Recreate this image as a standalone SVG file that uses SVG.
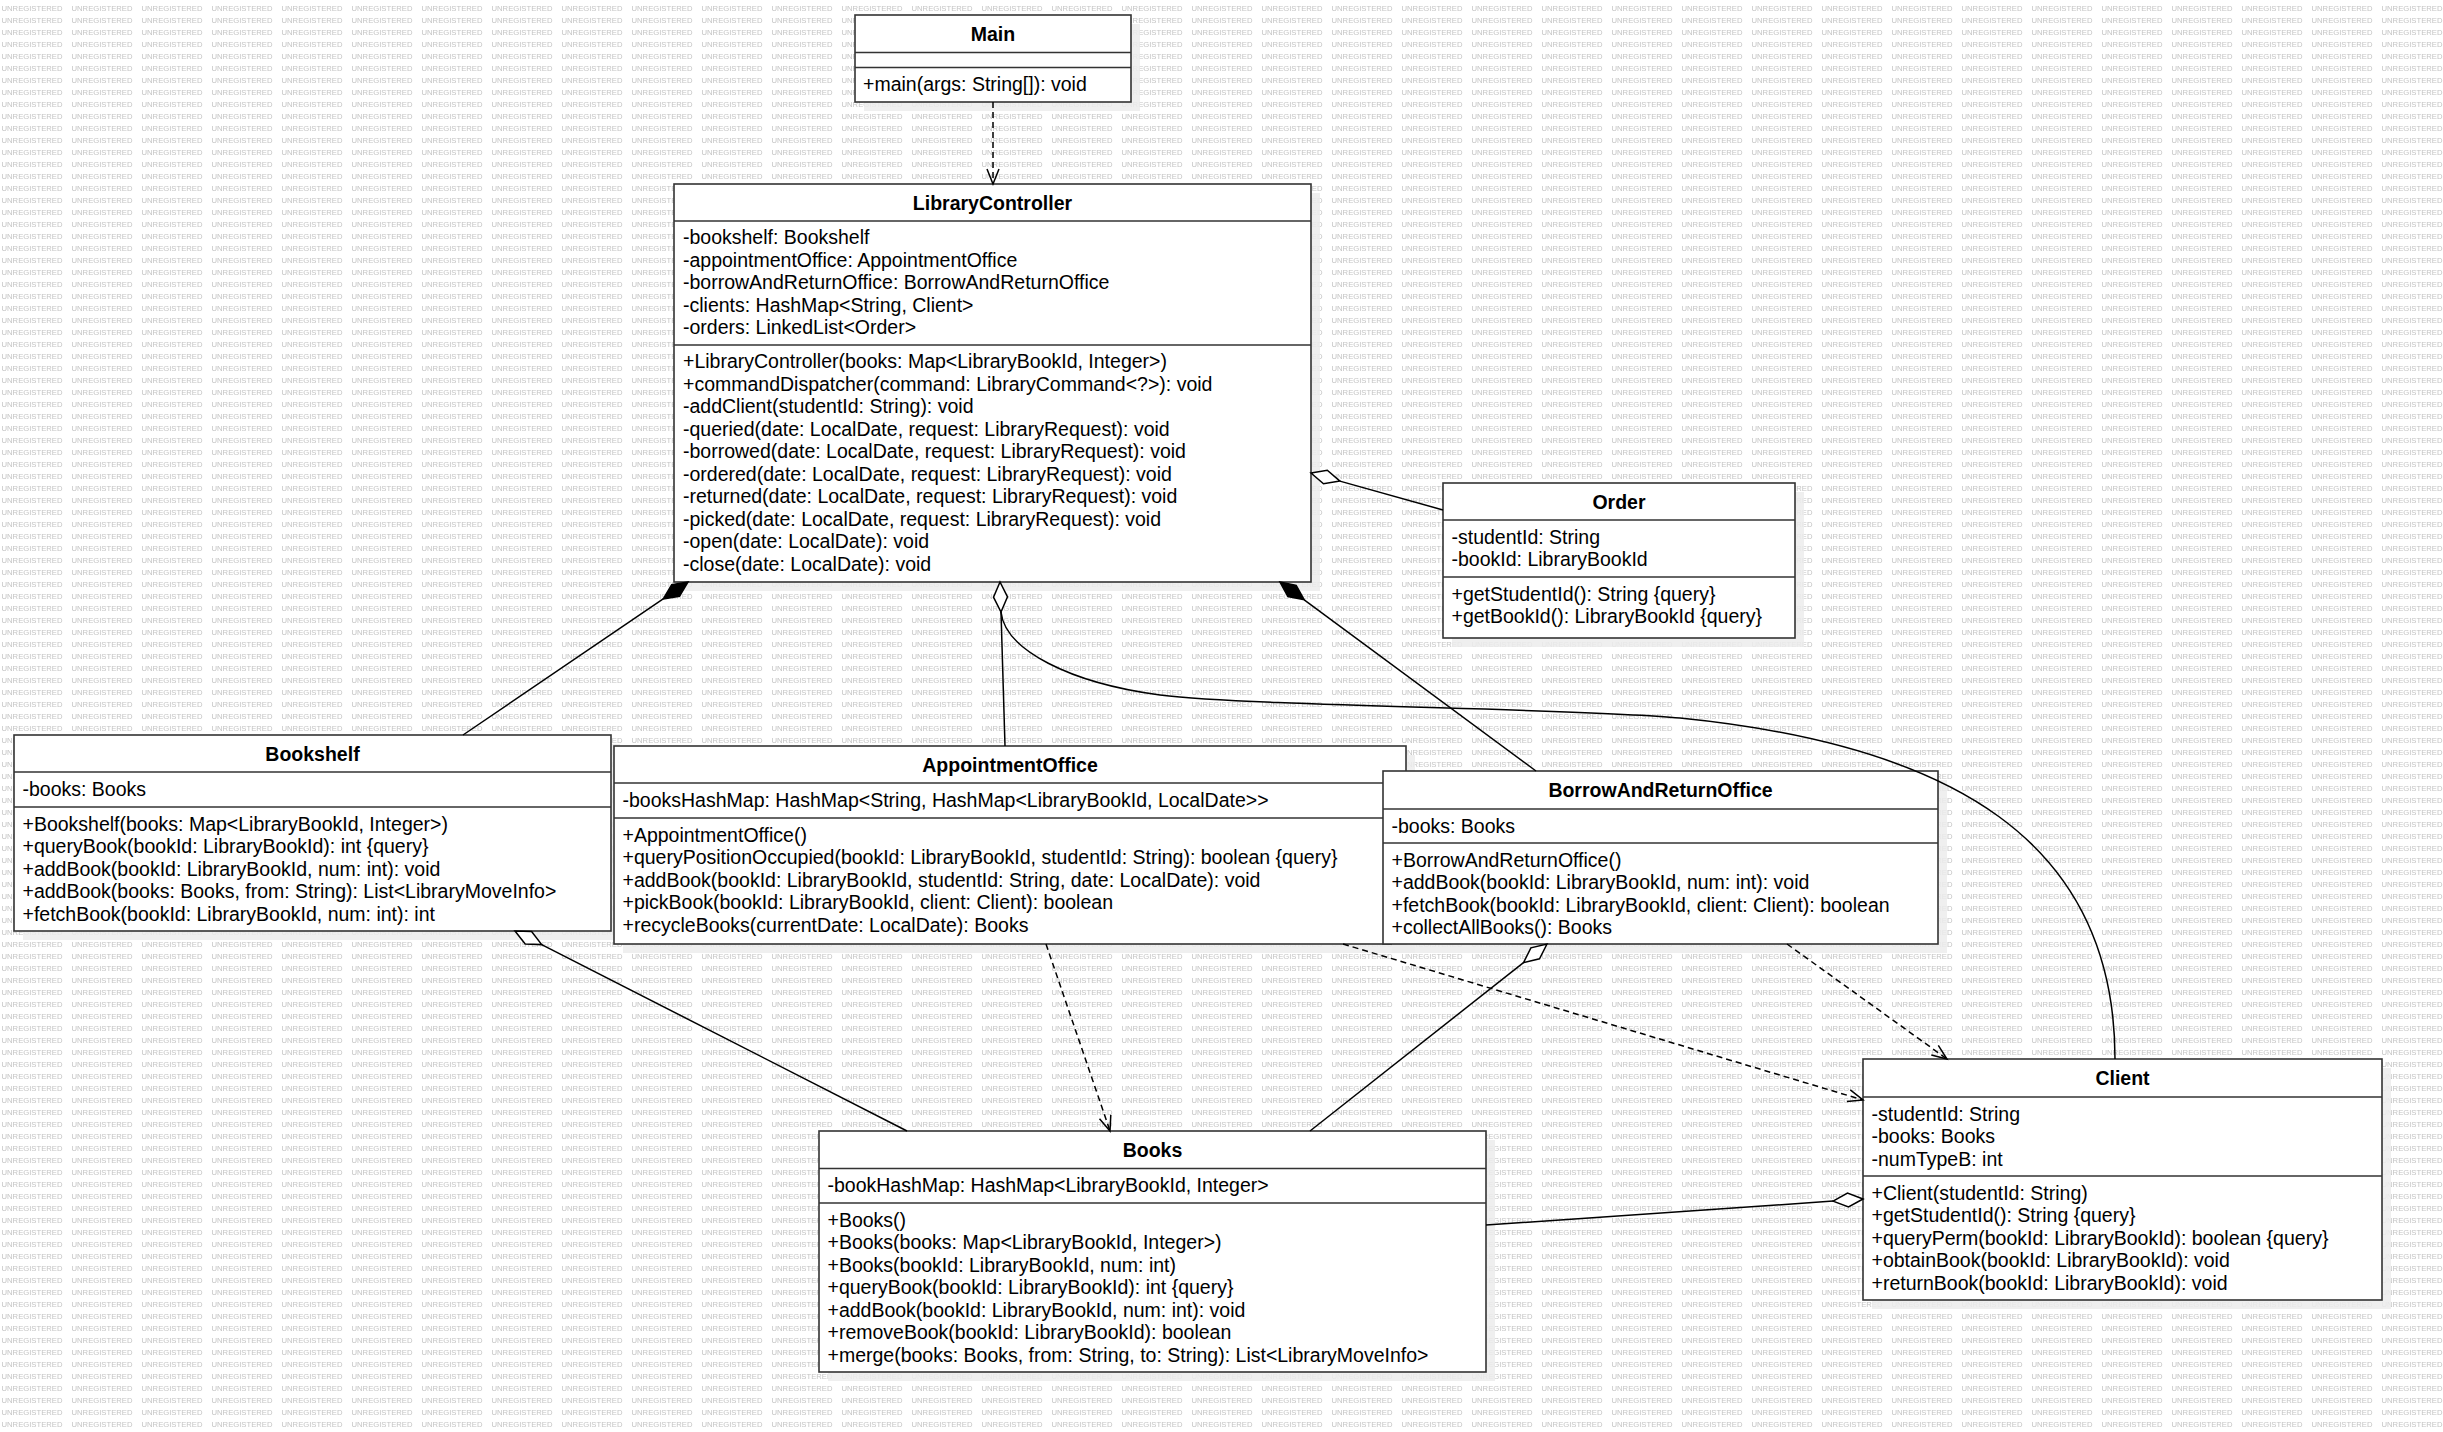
<svg xmlns="http://www.w3.org/2000/svg" width="2443" height="1432" viewBox="0 0 2443 1432">
<style>
.box{fill:#fff;stroke:#333;stroke-width:1.6}
.dv{stroke:#333;stroke-width:1.6}
.sh{fill:#ececec;fill-opacity:.85}
.t{font-family:"Liberation Sans",Arial,sans-serif;font-size:19.5px;fill:#000}
.tt{font-family:"Liberation Sans",Arial,sans-serif;font-size:19.5px;font-weight:bold;text-anchor:middle;fill:#000}
.ln{fill:none;stroke:#000;stroke-width:1.5}
.ds{stroke-dasharray:6 4}
.hd{fill:#fff;stroke:#000;stroke-width:1.5}
.fd{fill:#000;stroke:#000;stroke-width:1.5}
.wm{font-family:"Liberation Sans",Arial,sans-serif;font-size:7.5px;fill:#c4c4c4}
</style>
<defs>
<pattern id="wmp" width="70" height="12" patternUnits="userSpaceOnUse">
<text class="wm" x="1.5" y="10.8" textLength="61" lengthAdjust="spacingAndGlyphs">UNREGISTERED</text>
</pattern>
</defs>
<rect width="2443" height="1432" fill="#fff"/>
<rect width="2443" height="1432" fill="url(#wmp)"/>

<g id="Main">
<rect class="sh" x="864" y="24" width="276" height="87"/>
<rect class="box" x="855" y="15" width="276" height="87"/>
<line class="dv" x1="855" y1="52.5" x2="1131" y2="52.5"/>
<line class="dv" x1="855" y1="67.5" x2="1131" y2="67.5"/>
<text class="tt" x="993" y="41">Main</text>
<text class="t" x="863" y="91">+main(args: String[]): void</text>
</g>

<g id="LibraryController">
<rect class="sh" x="683" y="193" width="637" height="398"/>
<rect class="box" x="674" y="184" width="637" height="398"/>
<line class="dv" x1="674" y1="221" x2="1311" y2="221"/>
<line class="dv" x1="674" y1="345" x2="1311" y2="345"/>
<text class="tt" x="992.5" y="210">LibraryController</text>
<text class="t" x="683"><tspan x="683" y="244">-bookshelf: Bookshelf</tspan><tspan x="683" y="266.5">-appointmentOffice: AppointmentOffice</tspan><tspan x="683" y="289">-borrowAndReturnOffice: BorrowAndReturnOffice</tspan><tspan x="683" y="311.5">-clients: HashMap&lt;String, Client&gt;</tspan><tspan x="683" y="334">-orders: LinkedList&lt;Order&gt;</tspan></text>
<text class="t" x="683"><tspan x="683" y="368">+LibraryController(books: Map&lt;LibraryBookId, Integer&gt;)</tspan><tspan x="683" y="390.5">+commandDispatcher(command: LibraryCommand&lt;?&gt;): void</tspan><tspan x="683" y="413">-addClient(studentId: String): void</tspan><tspan x="683" y="435.5">-queried(date: LocalDate, request: LibraryRequest): void</tspan><tspan x="683" y="458">-borrowed(date: LocalDate, request: LibraryRequest): void</tspan><tspan x="683" y="480.5">-ordered(date: LocalDate, request: LibraryRequest): void</tspan><tspan x="683" y="503">-returned(date: LocalDate, request: LibraryRequest): void</tspan><tspan x="683" y="525.5">-picked(date: LocalDate, request: LibraryRequest): void</tspan><tspan x="683" y="548">-open(date: LocalDate): void</tspan><tspan x="683" y="570.5">-close(date: LocalDate): void</tspan></text>
</g>

<g id="Order">
<rect class="sh" x="1452" y="492" width="352" height="155"/>
<rect class="box" x="1443" y="483" width="352" height="155"/>
<line class="dv" x1="1443" y1="520" x2="1795" y2="520"/>
<line class="dv" x1="1443" y1="577" x2="1795" y2="577"/>
<text class="tt" x="1619" y="509">Order</text>
<text class="t"><tspan x="1451.5" y="543.5">-studentId: String</tspan><tspan x="1451.5" y="566">-bookId: LibraryBookId</tspan></text>
<text class="t"><tspan x="1451.5" y="600.5">+getStudentId(): String {query}</tspan><tspan x="1451.5" y="623">+getBookId(): LibraryBookId {query}</tspan></text>
</g>

<g id="Bookshelf">
<rect class="sh" x="23" y="744" width="597" height="196"/>
<rect class="box" x="14" y="735" width="597" height="196"/>
<line class="dv" x1="14" y1="772" x2="611" y2="772"/>
<line class="dv" x1="14" y1="807" x2="611" y2="807"/>
<text class="tt" x="312.5" y="761">Bookshelf</text>
<text class="t" x="22.5" y="795.5">-books: Books</text>
<text class="t"><tspan x="22.5" y="830.5">+Bookshelf(books: Map&lt;LibraryBookId, Integer&gt;)</tspan><tspan x="22.5" y="853">+queryBook(bookId: LibraryBookId): int {query}</tspan><tspan x="22.5" y="875.5">+addBook(bookId: LibraryBookId, num: int): void</tspan><tspan x="22.5" y="898">+addBook(books: Books, from: String): List&lt;LibraryMoveInfo&gt;</tspan><tspan x="22.5" y="920.5">+fetchBook(bookId: LibraryBookId, num: int): int</tspan></text>
</g>

<g id="AppointmentOffice">
<rect class="sh" x="623" y="755" width="792" height="198"/>
<rect class="box" x="614" y="746" width="792" height="198"/>
<line class="dv" x1="614" y1="783" x2="1406" y2="783"/>
<line class="dv" x1="614" y1="818" x2="1406" y2="818"/>
<text class="tt" x="1010" y="772">AppointmentOffice</text>
<text class="t" x="622.5" y="806.5">-booksHashMap: HashMap&lt;String, HashMap&lt;LibraryBookId, LocalDate&gt;&gt;</text>
<text class="t"><tspan x="622.5" y="841.5">+AppointmentOffice()</tspan><tspan x="622.5" y="864">+queryPositionOccupied(bookId: LibraryBookId, studentId: String): boolean {query}</tspan><tspan x="622.5" y="886.5">+addBook(bookId: LibraryBookId, studentId: String, date: LocalDate): void</tspan><tspan x="622.5" y="909">+pickBook(bookId: LibraryBookId, client: Client): boolean</tspan><tspan x="622.5" y="931.5">+recycleBooks(currentDate: LocalDate): Books</tspan></text>
</g>

<g id="BorrowAndReturnOffice">
<rect class="sh" x="1392" y="780" width="555" height="173"/>
<rect class="box" x="1383" y="771" width="555" height="173"/>
<line class="dv" x1="1383" y1="809" x2="1938" y2="809"/>
<line class="dv" x1="1383" y1="843" x2="1938" y2="843"/>
<text class="tt" x="1660.5" y="797">BorrowAndReturnOffice</text>
<text class="t" x="1391.5" y="832.5">-books: Books</text>
<text class="t"><tspan x="1391.5" y="866.5">+BorrowAndReturnOffice()</tspan><tspan x="1391.5" y="889">+addBook(bookId: LibraryBookId, num: int): void</tspan><tspan x="1391.5" y="911.5">+fetchBook(bookId: LibraryBookId, client: Client): boolean</tspan><tspan x="1391.5" y="934">+collectAllBooks(): Books</tspan></text>
</g>

<g id="Client">
<rect class="sh" x="1872" y="1068" width="519" height="241"/>
<rect class="box" x="1863" y="1059" width="519" height="241"/>
<line class="dv" x1="1863" y1="1097" x2="2382" y2="1097"/>
<line class="dv" x1="1863" y1="1176" x2="2382" y2="1176"/>
<text class="tt" x="2122.5" y="1085">Client</text>
<text class="t"><tspan x="1871.5" y="1120.5">-studentId: String</tspan><tspan x="1871.5" y="1143">-books: Books</tspan><tspan x="1871.5" y="1165.5">-numTypeB: int</tspan></text>
<text class="t"><tspan x="1871.5" y="1199.5">+Client(studentId: String)</tspan><tspan x="1871.5" y="1222">+getStudentId(): String {query}</tspan><tspan x="1871.5" y="1244.5">+queryPerm(bookId: LibraryBookId): boolean {query}</tspan><tspan x="1871.5" y="1267">+obtainBook(bookId: LibraryBookId): void</tspan><tspan x="1871.5" y="1289.5">+returnBook(bookId: LibraryBookId): void</tspan></text>
</g>

<g id="Books">
<rect class="sh" x="828" y="1140" width="667" height="241"/>
<rect class="box" x="819" y="1131" width="667" height="241"/>
<line class="dv" x1="819" y1="1168.5" x2="1486" y2="1168.5"/>
<line class="dv" x1="819" y1="1203" x2="1486" y2="1203"/>
<text class="tt" x="1152.5" y="1157">Books</text>
<text class="t" x="827.5" y="1192">-bookHashMap: HashMap&lt;LibraryBookId, Integer&gt;</text>
<text class="t"><tspan x="827.5" y="1226.5">+Books()</tspan><tspan x="827.5" y="1249">+Books(books: Map&lt;LibraryBookId, Integer&gt;)</tspan><tspan x="827.5" y="1271.5">+Books(bookId: LibraryBookId, num: int)</tspan><tspan x="827.5" y="1294">+queryBook(bookId: LibraryBookId): int {query}</tspan><tspan x="827.5" y="1316.5">+addBook(bookId: LibraryBookId, num: int): void</tspan><tspan x="827.5" y="1339">+removeBook(bookId: LibraryBookId): boolean</tspan><tspan x="827.5" y="1361.5">+merge(books: Books, from: String, to: String): List&lt;LibraryMoveInfo&gt;</tspan></text>
</g>

<g id="connectors">
<!-- Main -> LibraryController dependency -->
<line class="ln ds" x1="993" y1="102" x2="993" y2="183"/>
<polyline class="ln" points="987,169 993,184 999,169"/>
<!-- LibraryController -> Bookshelf composition -->
<line class="ln" x1="663.2" y1="598.9" x2="463" y2="735"/>
<polygon class="fd" points="688,582 671.7,584.6 663.2,598.9 679.5,596.2"/>
<!-- LibraryController -> AppointmentOffice aggregation -->
<line class="ln" x1="1001" y1="612" x2="1005" y2="746"/>
<!-- LibraryController -> Client aggregation (curved) -->
<path class="ln" d="M1001,612 C1005,650 1070,683 1160,695 C1260,707 1580,708 1680,718 C1950,745 2115,840 2115,1059"/>
<polygon class="hd" points="1000,582 993.5,597.2 1001,612 1007.5,596.8"/>
<!-- LibraryController -> Order aggregation -->
<line class="ln" x1="1339.9" y1="481.1" x2="1443" y2="510"/>
<polygon class="hd" points="1311,473 1327.3,470.3 1339.9,481.1 1323.5,483.8"/>
<!-- LibraryController -> BorrowAndReturnOffice composition -->
<line class="ln" x1="1304.2" y1="599.8" x2="1536" y2="771"/>
<polygon class="fd" points="1280,582 1296.2,585.3 1304.2,599.8 1287.9,596.5"/>
<!-- Bookshelf -> Books aggregation -->
<line class="ln" x1="541.7" y1="944.6" x2="907" y2="1131"/>
<polygon class="hd" points="515,931 531.6,931.6 541.7,944.6 525.2,944"/>
<!-- BorrowAndReturnOffice -> Books aggregation -->
<line class="ln" x1="1523.5" y1="962.6" x2="1310" y2="1131"/>
<polygon class="hd" points="1547,944 1539.5,958.8 1523.5,962.6 1530.9,947.8"/>
<!-- Client -> Books aggregation -->
<line class="ln" x1="1833.1" y1="1201.1" x2="1486" y2="1225"/>
<polygon class="hd" points="1863,1199 1847.5,1193 1833.1,1201.1 1848.5,1207"/>
<!-- AppointmentOffice -> Books dependency -->
<line class="ln ds" x1="1046" y1="944" x2="1109.7" y2="1130"/>
<polyline class="ln" points="1099.5,1118.8 1110,1131 1110.8,1114.9"/>
<!-- AppointmentOffice -> Client dependency -->
<line class="ln ds" x1="1343" y1="944" x2="1862" y2="1099.7"/>
<polyline class="ln" points="1846.9,1101.4 1863,1100 1850.3,1089.9"/>
<!-- BorrowAndReturnOffice -> Client dependency -->
<line class="ln ds" x1="1787" y1="944" x2="1946" y2="1058.3"/>
<polyline class="ln" points="1931.3,1055.1 1947,1059 1938.3,1045.4"/>
</g>
</svg>
